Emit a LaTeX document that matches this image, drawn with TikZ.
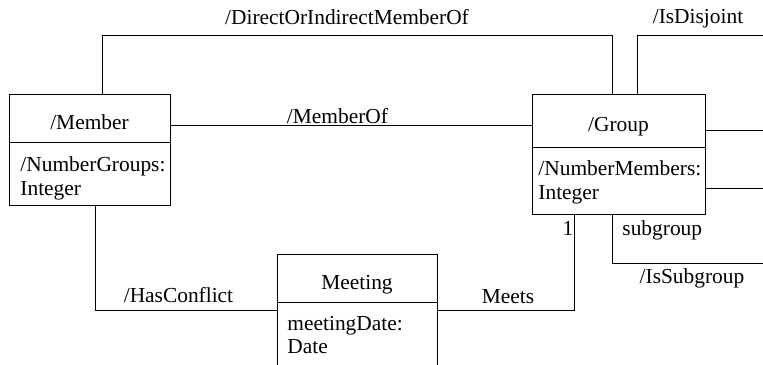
\documentclass[tikz,border=0pt]{standalone}
\usepackage{fontspec}
\setmainfont{Liberation Serif}
\begin{document}
\begin{tikzpicture}[x=1bp,y=-1bp,
  line width=0.9bp,
  box/.style={draw,rectangle,anchor=north west,inner sep=0pt},
  txt/.style={inner sep=0pt,font=\fontsize{21.4bp}{24bp}\selectfont},
  lbl/.style={txt,anchor=base},
  lblw/.style={txt,anchor=base west}]
\useasboundingbox (0,0) rectangle (763,364);
% class boxes
\node[box,minimum width=161bp,minimum height=111bp] (member) at (9,94) {};
\node[box,minimum width=173bp,minimum height=120bp] (group) at (532,94) {};
\node[box,minimum width=160bp,minimum height=112bp] (meeting) at (277,254) {};
% dividers
\draw (member.west |- 0,142) -- (member.east |- 0,142);
\draw (group.west |- 0,147) -- (group.east |- 0,147);
\draw (meeting.west |- 0,302) -- (meeting.east |- 0,302);
% box texts
\node[lbl] (mt) at (89.5,129) {/Member};
\node[lblw] (ma1) at (20,171) {/NumberGroups:};
\node[lblw] (ma2) at (20,195) {Integer};
\node[lbl] (gt) at (618.5,131) {/Group};
\node[lblw] (ga1) at (538,175) {/NumberMembers:};
\node[lblw] (ga2) at (538,199) {Integer};
\node[lbl] (mtt) at (357,289) {Meeting};
\node[lblw] (mta1) at (287,330) {meetingDate:};
\node[lblw] (mta2) at (287,353) {Date};
% free ends at the right edge
\coordinate (e1) at (763,35);
\coordinate (e2) at (763,130);
\coordinate (e3) at (763,188);
\coordinate (e4) at (763,263);
% connectors
\draw ([xshift=12.5bp]member.north) -- ++(0,-59) -| ([xshift=-6.5bp]group.north);
\draw ([xshift=18.5bp]group.north) |- (e1);
\draw ([yshift=24.5bp]member.east) -- ([yshift=24.5bp]member.east -| group.west);
\draw ([yshift=24bp]group.east) -- ([yshift=24bp]group.east -| e2);
\draw ([yshift=-34bp]group.east) -- ([yshift=-34bp]group.east -| e3);
\draw ([xshift=-6.5bp]group.south) |- (e4);
\draw ([xshift=-44.5bp]group.south) |- (meeting.east);
\draw ([xshift=5.5bp]member.south) |- (meeting.west);
% connector labels
\node[lbl] (l1) at (347,24) {/DirectOrIndirectMemberOf};
\node[lbl] (l2) at (698,23) {/IsDisjoint};
\node[lbl] (l3) at (337.5,123) {/MemberOf};
\node[lbl] (l4) at (178.5,302) {/HasConflict};
\node[lbl] (l5) at (508,303) {Meets};
\node[lblw] (l6) at (622,235) {subgroup};
\node[lbl] (l7) at (692,283) {/IsSubgroup};
\node[lbl] (l8) at (568,235) {1};
\end{tikzpicture}
\end{document}
